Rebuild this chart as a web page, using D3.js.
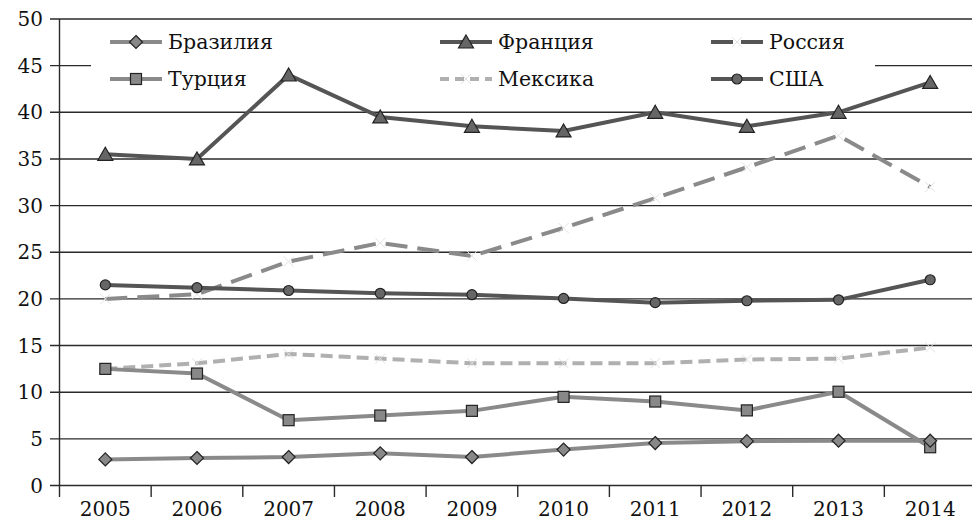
<!DOCTYPE html>
<html>
<head>
<meta charset="utf-8">
<script src="https://cdn.jsdelivr.net/npm/d3@7"></script>
<style>
  body { margin: 0; background: #fff; }
  svg { display: block; }
  text { font-family: "DejaVu Serif", "Liberation Serif", serif; fill: #111; }
</style>
</head>
<body>
<div id="chart"></div>
<script>
const years = ["2005", "2006", "2007", "2008", "2009", "2010", "2011", "2012", "2013", "2014"];
const yTicks = [0, 5, 10, 15, 20, 25, 30, 35, 40, 45, 50];

const brazil = [2.8, 2.95, 3.05, 3.45, 3.05, 3.85, 4.55, 4.75, 4.8, 4.8];
const turkey = [12.5, 12.0, 7.0, 7.5, 8.0, 9.5, 9.0, 8.05, 10.05, 4.1];
const france = [35.5, 35.0, 44.0, 39.5, 38.5, 38.0, 40.0, 38.5, 40.0, 43.2];
const mexico = [12.5, 13.1, 14.1, 13.6, 13.1, 13.1, 13.1, 13.5, 13.6, 14.8];
const russia = [20.0, 20.5, 24.0, 26.0, 24.6, 27.6, 30.8, 34.1, 37.5, 32.0];
const usa = [21.5, 21.2, 20.9, 20.6, 20.45, 20.05, 19.6, 19.8, 19.9, 22.05];

const series = [
  { name: "Бразилия", values: brazil, color: "#8a8a8a", legendColor: "#8a8a8a", dash: null, legendDash: null, marker: "diamond" },
  { name: "Турция", values: turkey, color: "#8a8a8a", legendColor: "#8a8a8a", dash: null, legendDash: null, marker: "square" },
  { name: "Франция", values: france, color: "#555", legendColor: "#555", dash: null, legendDash: null, marker: "triangle" },
  { name: "Мексика", values: mexico, color: "#b0b0b0", legendColor: "#b0b0b0", dash: "12,6", legendDash: "9,6", marker: "cross" },
  { name: "Россия", values: russia, color: "#8a8a8a", legendColor: "#555", dash: "22,10", legendDash: "22,8", marker: "cross" },
  { name: "США", values: usa, color: "#555", legendColor: "#555", dash: null, legendDash: null, marker: "circle" }
];

const W = 972, H = 522;
const svg = d3.select("#chart").append("svg")
  .attr("width", W).attr("height", H);

const x = d3.scaleBand().domain(years).range([59.5, 976]);
const y = d3.scaleLinear().domain([0, 50]).range([485.5, 19]);

// gridlines
svg.append("g")
  .selectAll("line")
  .data(yTicks)
  .enter().append("line")
  .attr("x1", 50).attr("x2", W)
  .attr("y1", d => y(d)).attr("y2", d => y(d))
  .attr("stroke", "#2a2a2a").attr("stroke-width", 1.4);

// y axis labels
svg.append("g")
  .selectAll("text")
  .data(yTicks)
  .enter().append("text")
  .attr("x", 43).attr("y", d => y(d) + 7)
  .attr("text-anchor", "end")
  .attr("font-size", 20)
  .text(d => d);

// left axis line
svg.append("line")
  .attr("x1", 59.5).attr("x2", 59.5)
  .attr("y1", y(50)).attr("y2", 497)
  .attr("stroke", "#2a2a2a").attr("stroke-width", 1.4);

// x ticks
svg.append("g")
  .selectAll("line")
  .data(years.slice(1))
  .enter().append("line")
  .attr("x1", d => x(d)).attr("x2", d => x(d))
  .attr("y1", y(0)).attr("y2", 497)
  .attr("stroke", "#2a2a2a").attr("stroke-width", 1.4);

svg.append("g")
  .selectAll("text")
  .data(years)
  .enter().append("text")
  .attr("x", d => x(d) + x.bandwidth() / 2)
  .attr("y", 516)
  .attr("text-anchor", "middle")
  .attr("font-size", 20)
  .text(d => d);

// legend background
svg.append("rect")
  .attr("x", 91).attr("y", 25).attr("width", 784).attr("height", 72)
  .attr("fill", "#fff");

function drawMarker(g, type, cx, cy) {
  if (type === "diamond") {
    g.append("path")
      .attr("d", `M${cx},${cy - 6.5}L${cx + 6.5},${cy}L${cx},${cy + 6.5}L${cx - 6.5},${cy}Z`)
      .attr("fill", "#888").attr("stroke", "#222").attr("stroke-width", 1.2);
  } else if (type === "square") {
    g.append("rect")
      .attr("x", cx - 5.5).attr("y", cy - 5.5).attr("width", 11).attr("height", 11)
      .attr("fill", "#888").attr("stroke", "#222").attr("stroke-width", 1.2);
  } else if (type === "triangle") {
    g.append("path")
      .attr("d", `M${cx},${cy - 7}L${cx + 7.5},${cy + 6}L${cx - 7.5},${cy + 6}Z`)
      .attr("fill", "#666").attr("stroke", "#222").attr("stroke-width", 1.2);
  } else if (type === "circle") {
    g.append("circle")
      .attr("cx", cx).attr("cy", cy).attr("r", 5)
      .attr("fill", "#666").attr("stroke", "#222").attr("stroke-width", 1.2);
  } else if (type === "cross") {
    g.append("path")
      .attr("d", `M${cx - 5},${cy - 5}L${cx + 5},${cy + 5}M${cx - 5},${cy + 5}L${cx + 5},${cy - 5}`)
      .attr("stroke", "#e2e2e2").attr("stroke-width", 1);
  }
}

// legend
const legendPos = [
  [110, 42], [110, 79], [440, 42], [440, 79], [711, 42], [711, 79]
];
series.forEach((s, i) => {
  const [lx, ly] = legendPos[i];
  const g = svg.append("g");
  g.append("line")
    .attr("x1", lx).attr("x2", lx + 52)
    .attr("y1", ly).attr("y2", ly)
    .attr("stroke", s.legendColor).attr("stroke-width", 4)
    .attr("stroke-dasharray", s.legendDash);
  drawMarker(g, s.marker, lx + 26, ly);
  g.append("text")
    .attr("x", lx + 58).attr("y", ly + 7)
    .attr("font-size", 20.5)
    .text(s.name);
});

// lines
const line = d3.line()
  .x((d, i) => x(years[i]) + x.bandwidth() / 2)
  .y(d => y(d));

const drawOrder = [4, 3, 1, 0, 5, 2];
drawOrder.forEach(idx => {
  const s = series[idx];
  svg.append("path")
    .datum(s.values)
    .attr("d", line)
    .attr("fill", "none")
    .attr("stroke", s.color)
    .attr("stroke-width", 4)
    .attr("stroke-dasharray", s.dash);
  const mg = svg.append("g");
  s.values.forEach((v, i) => {
    drawMarker(mg, s.marker, x(years[i]) + x.bandwidth() / 2, y(v));
  });
});
</script>
</body>
</html>
